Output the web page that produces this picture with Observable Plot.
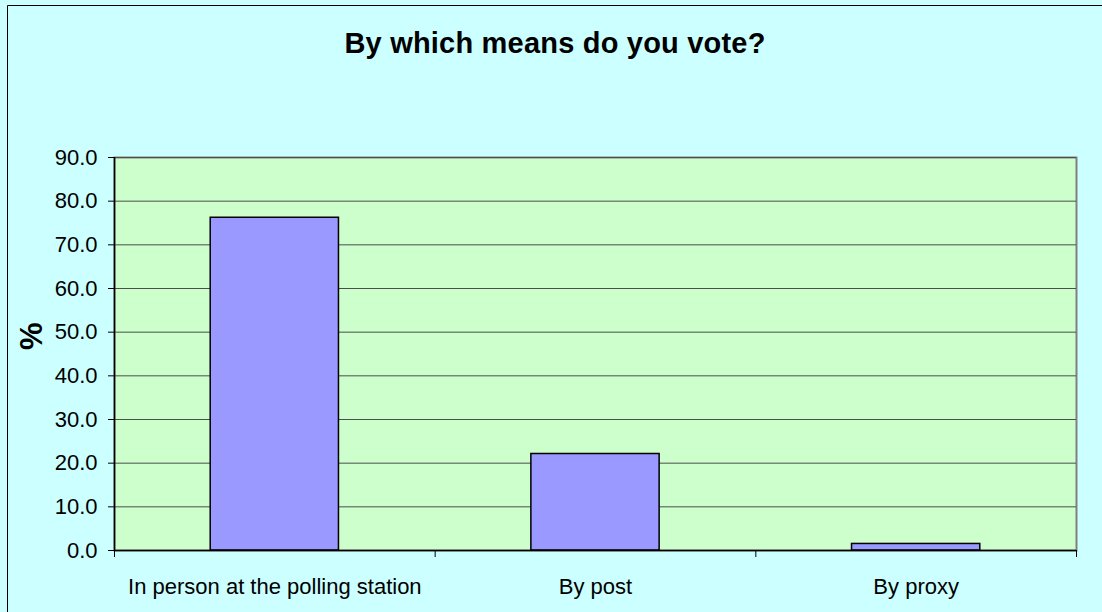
<!DOCTYPE html>
<html><head><meta charset="utf-8">
<script src="https://cdn.jsdelivr.net/npm/d3@7"></script>
<script src="https://cdn.jsdelivr.net/npm/@observablehq/plot@0.6"></script>
<style>
html,body{margin:0;background:#CCFFFF;overflow:hidden;}
#chart{position:relative;width:1102px;height:612px;overflow:hidden;background:#CCFFFF;font-family:"Liberation Sans",Arial,sans-serif;}
#title{position:absolute;top:29px;left:8px;width:1094px;text-align:center;font-size:29px;font-weight:bold;line-height:29px;letter-spacing:0.2px;color:#000;}
#plot{position:absolute;left:0;top:0;}
</style></head><body>
<div id="chart"><div id="plot"></div><div id="title">By which means do you vote?</div></div>
<script>
const categories = ["In person at the polling station", "By post", "By proxy"];
const values = [76.2, 22.1, 1.5];
const yTicks = [0, 10, 20, 30, 40, 50, 60, 70, 80, 90];
const gridTicks = [10, 20, 30, 40, 50, 60, 70, 80, 90];
const yLabel = "%";

const table = categories.map((c, i) => ({category: c, index: i, value: values[i]}));
const boundaries = d3.range(categories.length + 1);
const labelPositions = categories.map((c, i) => i + 0.5);

const chart = Plot.plot({
  width: 1102,
  height: 612,
  marginTop: 157,
  marginRight: 26,
  marginBottom: 62,
  marginLeft: 114,
  style: {background: "transparent", fontFamily: "'Liberation Sans', Arial, sans-serif", color: "#000"},
  x: {domain: [0, categories.length], axis: null},
  y: {domain: [0, 90], axis: null},
  marks: [
    Plot.frame({fill: "#CCFFCC", stroke: "#808080", strokeWidth: 2}),
    Plot.ruleY(gridTicks, {stroke: "#4d4d4d", strokeWidth: 1}),
    Plot.rectY(table, {x1: d => d.index + 0.3, x2: d => d.index + 0.7, y: "value", fill: "#9999FF", stroke: "#000", strokeWidth: 1.5}),
    Plot.ruleY([0], {stroke: "#000", strokeWidth: 1.5}),
    Plot.ruleX([0], {stroke: "#000", strokeWidth: 1.5}),
    Plot.axisY({ticks: yTicks, tickFormat: d3.format(".1f"), tickSize: 6, tickPadding: 11, fontSize: 22, label: null, stroke: "#000"}),
    Plot.axisX({ticks: boundaries, tickFormat: () => "", tickSize: 7, label: null, stroke: "#000"}),
    Plot.axisX({ticks: labelPositions, tickFormat: v => categories[Math.floor(v)], tickSize: 0, tickPadding: 28, fontSize: 22, label: null}),
    Plot.text([yLabel], {text: d => d, frameAnchor: "left", dx: -82, dy: -4, rotate: -90, fontSize: 31, fontWeight: "bold", fill: "#000"}),
    () => {
      // outer chart-area border (top and left edges visible in the picture)
      const ns = "http://www.w3.org/2000/svg";
      const p = document.createElementNS(ns, "path");
      p.setAttribute("d", "M7.5,700V5.5H1200");
      p.setAttribute("fill", "none");
      p.setAttribute("stroke", "#000");
      return p;
    }
  ]
});
document.getElementById("plot").appendChild(chart);
</script>
</body></html>
